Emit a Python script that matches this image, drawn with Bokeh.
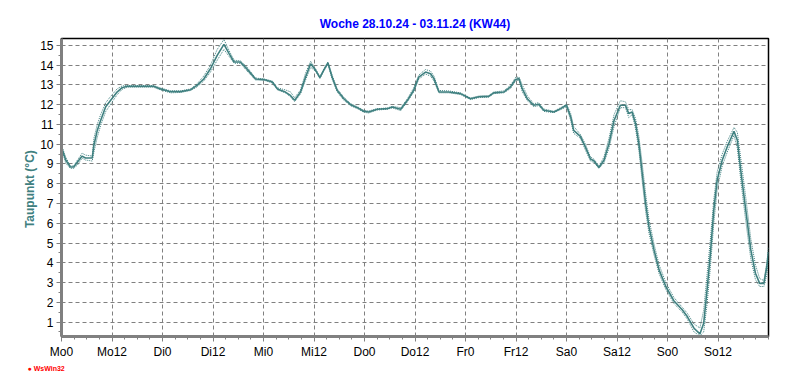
from bokeh.plotting import figure
from bokeh.models import Range1d, FixedTicker, Title, ColumnDataSource
from bokeh.embed import file_html
from bokeh.resources import INLINE

# hours since Monday 00:00
hours = [0, 1, 2.1, 2.9, 3.8, 4.9, 5.7, 7.3, 7.7, 8.5, 9.3, 10.5, 11.6, 13.2, 14.4, 15.6,
         21.9, 23.5, 25.9, 28.3, 30.7, 32.2, 33.8, 35.4, 37.0, 38.6, 39.8, 41.0, 42.5, 44.1,
         46.1, 48.1, 50.1, 51.3, 53.2, 54.4, 55.4, 56.8, 58.0, 59.2, 60.4, 61.4, 62.3, 63.3,
         64.3, 65.5, 67.1, 68.7, 70.3, 71.8, 73.0, 75.0, 77.4, 78.6, 80.6, 82.2, 83.7, 84.9,
         86.5, 87.7, 88.5, 89.7, 92.0, 94.8, 97.2, 99.2, 101.5, 102.7, 105.1, 106.7, 107.9,
         108.7, 109.5, 110.7, 112.2, 113.4, 114.6, 117.0, 118.6, 120.0, 121.0, 121.7, 123.3,
         124.5, 125.7, 126.5, 127.7, 128.9, 130.1, 131.3, 132.8, 134.0, 134.8, 135.6, 136.4,
         137.2, 138.0, 138.8, 139.6, 140.8, 142.0, 143.6, 145.5, 147.5, 148.7, 150.3, 151.7,
         152.6, 153.4, 154.2, 155.0, 155.8, 157.0, 158.2, 159.8, 160.6, 161.4, 162.6, 163.8,
         164.9, 165.9, 166.9, 167.6, 168.0]

dew = [9.85, 9.2, 8.85, 8.85, 9.1, 9.4, 9.3, 9.3, 9.95, 10.7, 11.2, 11.9, 12.2, 12.64, 12.86, 12.93,
       12.93, 12.8, 12.66, 12.66, 12.76, 12.98, 13.3, 13.82, 14.5, 15.05, 14.6, 14.16, 14.16, 13.8,
       13.3, 13.27, 13.15, 12.8, 12.64, 12.47, 12.22, 12.64, 13.4, 14.07, 13.74, 13.37, 13.74, 14.12,
       13.4, 12.73, 12.3, 12.0, 11.85, 11.67, 11.63, 11.77, 11.8, 11.88, 11.77, 12.22, 12.73, 13.4,
       13.65, 13.57, 13.32, 12.64, 12.64, 12.56, 12.3, 12.4, 12.42, 12.6, 12.64, 12.9, 13.28,
       13.32, 12.8, 12.3, 11.97, 12.02, 11.72, 11.63, 11.8, 11.97, 11.38, 10.7, 10.4,
       9.85, 9.25, 9.16, 8.82, 9.19, 10.03, 11.2, 11.97, 11.97, 11.55, 11.63, 11.05,
       10.03, 8.52, 7.0, 5.82, 4.65, 3.64, 2.8, 2.08, 1.62, 1.28, 0.69, 0.4,
       0.94, 2.63, 4.48, 6.67, 8.18, 9.19, 9.87, 10.65, 10.2, 8.69, 6.67, 4.65,
       3.47, 2.96, 2.96, 3.8, 4.56]

dew_max = [9.95, 9.35, 8.9, 8.9, 9.2, 9.55, 9.45, 9.4, 10.3, 11.0, 11.5, 12.1, 12.4, 12.8, 12.95, 12.97,
           12.97, 12.85, 12.7, 12.7, 12.8, 13.05, 13.45, 14.0, 14.8, 15.3, 14.75, 14.25, 14.22, 13.9,
           13.35, 13.3, 13.2, 12.85, 12.75, 12.65, 12.35, 12.75, 13.6, 14.2, 13.8, 13.42, 13.8, 14.16,
           13.5, 12.8, 12.38, 12.05, 11.9, 11.72, 11.68, 11.8, 11.83, 11.92, 11.85, 12.3, 12.85, 13.5,
           13.78, 13.7, 13.45, 12.72, 12.7, 12.6, 12.34, 12.44, 12.46, 12.64, 12.7, 12.98, 13.38,
           13.4, 13.0, 12.45, 12.05, 12.1, 11.78, 11.67, 11.85, 12.02, 11.55, 10.9, 10.5,
           10.0, 9.35, 9.25, 8.9, 9.35, 10.3, 11.5, 12.2, 12.15, 11.75, 11.75, 11.3,
           10.4, 9.0, 7.5, 6.2, 4.95, 3.9, 3.0, 2.25, 1.75, 1.45, 0.9, 0.7,
           1.6, 3.4, 5.2, 7.2, 8.6, 9.5, 10.15, 10.85, 10.6, 9.3, 7.3, 5.2,
           3.9, 3.2, 3.1, 4.0, 4.8]

dew_min = [9.75, 9.05, 8.78, 8.78, 8.95, 9.3, 9.2, 9.15, 9.6, 10.35, 10.95, 11.65, 12.0, 12.5, 12.78, 12.88,
           12.88, 12.75, 12.6, 12.62, 12.72, 12.9, 13.2, 13.65, 14.25, 14.8, 14.45, 14.1, 14.1, 13.7,
           13.25, 13.24, 13.1, 12.75, 12.6, 12.4, 12.15, 12.55, 13.25, 13.9, 13.68, 13.33, 13.7, 14.05,
           13.3, 12.65, 12.22, 11.95, 11.8, 11.62, 11.58, 11.73, 11.77, 11.84, 11.7, 12.15, 12.65, 13.3,
           13.55, 13.45, 13.2, 12.6, 12.6, 12.52, 12.26, 12.36, 12.38, 12.56, 12.6, 12.82, 13.2,
           13.25, 12.65, 12.2, 11.9, 11.95, 11.66, 11.6, 11.75, 11.9, 11.2, 10.55, 10.3,
           9.7, 9.15, 9.08, 8.78, 9.05, 9.8, 10.9, 11.85, 11.85, 11.35, 11.5, 10.8,
           9.7, 8.1, 6.6, 5.5, 4.4, 3.45, 2.65, 1.95, 1.5, 1.15, 0.5, 0.3,
           0.5, 1.9, 3.8, 6.0, 7.7, 8.9, 9.6, 10.45, 9.8, 8.2, 6.1, 4.2,
           3.15, 2.8, 2.8, 3.4, 4.2]

x_ticks = [0, 12, 24, 36, 48, 60, 72, 84, 96, 108, 120, 132, 144, 156]
x_labels = ["Mo0", "Mo12", "Di0", "Di12", "Mi0", "Mi12", "Do0", "Do12",
            "Fr0", "Fr12", "Sa0", "Sa12", "So0", "So12"]
y_ticks = list(range(1, 16))

FONT = "Liberation Sans"
TEAL = "#3f8080"
GRAY = "#808080"

W, H = 784, 379
p = figure(width=W, height=H, output_backend="svg", toolbar_location=None,
           x_range=Range1d(0, 168), y_range=Range1d(0.27, 15.35),
           min_border_left=61, min_border_right=16, min_border_top=38, min_border_bottom=43,
           background_fill_color="white", border_fill_color="white")
p.frame_width = 707
p.frame_height = 298

p.title.text = "Woche 28.10.24 - 03.11.24 (KW44)"
p.title.align = "center"
p.title.text_color = "#0000ff"
p.title.text_font = FONT
p.title.text_font_size = "12px"
p.title.text_font_style = "bold"
p.title.standoff = 16

p.outline_line_color = "black"
p.outline_line_width = 1.5

src = ColumnDataSource(dict(h=hours, v=dew, vmax=dew_max, vmin=dew_min))
p.line("h", "vmax", source=src, line_color=TEAL, line_width=1, line_dash="1 1")
p.line("h", "vmin", source=src, line_color=TEAL, line_width=1, line_dash="1 1")
p.line("h", "v", source=src, line_color=TEAL, line_width=1.6)

# axes
p.xaxis.ticker = FixedTicker(ticks=x_ticks, minor_ticks=[h for h in range(0, 169, 3)])
p.xaxis.major_label_overrides = {t: l for t, l in zip(x_ticks, x_labels)}
p.yaxis.ticker = FixedTicker(ticks=y_ticks, minor_ticks=[i * 0.5 for i in range(1, 31)])
for ax in (p.xaxis[0], p.yaxis[0]):
    ax.axis_line_color = GRAY
    ax.axis_line_width = 3
    ax.major_tick_line_color = GRAY
    ax.minor_tick_line_color = GRAY
    ax.major_tick_out = 5
    ax.major_tick_in = 0
    ax.minor_tick_out = 3
    ax.minor_tick_in = 0
    ax.major_label_text_font = FONT
    ax.major_label_text_font_size = "12px"
    ax.major_label_text_color = "black"
p.xaxis.major_label_standoff = 3
p.yaxis.major_label_standoff = 3
p.yaxis.axis_label = "Taupunkt  (°C)"
p.yaxis.axis_label_text_font = FONT
p.yaxis.axis_label_text_font_size = "12px"
p.yaxis.axis_label_text_font_style = "bold"
p.yaxis.axis_label_text_color = TEAL
p.yaxis.axis_label_standoff = 0

p.xgrid.ticker = FixedTicker(ticks=x_ticks)
p.ygrid.ticker = FixedTicker(ticks=y_ticks)
for g in (p.xgrid[0], p.ygrid[0]):
    g.grid_line_color = GRAY
    g.grid_line_dash = "4 3"
    g.grid_line_width = 1

p.add_layout(Title(text="\u25cf WsWin32", align="left", offset=-34, standoff=2,
                   text_font=FONT, text_font_size="7px", text_font_style="bold",
                   text_color="red"), "below")

open("out.html", "w").write(file_html(p, INLINE))
